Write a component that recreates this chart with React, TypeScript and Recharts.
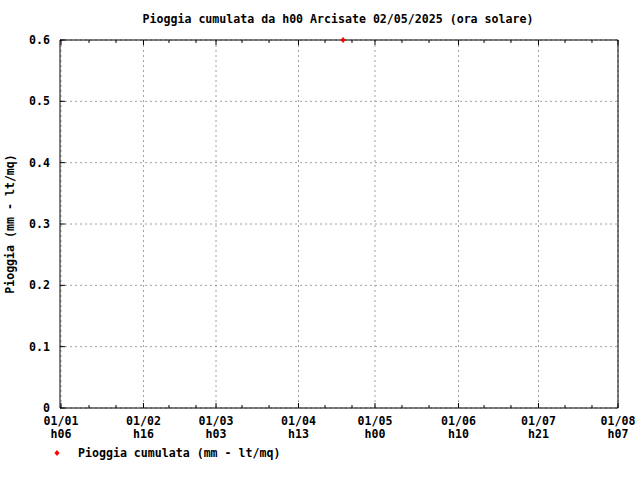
import { ComposedChart, Scatter, XAxis, YAxis, CartesianGrid, Legend } from "recharts";

// x positions are on a 0..100 scale across the plot (labels are irregularly spaced in the source)
const MAJOR_X = [0.18, 14.96, 27.96, 42.74, 56.45, 71.42, 85.75, 100];
const MAJOR_DATE = ["01/01", "01/02", "01/03", "01/04", "01/05", "01/06", "01/07", "01/08"];
const MAJOR_HOUR = ["h06", "h16", "h03", "h13", "h00", "h10", "h21", "h07"];
const MINOR_X = [5.2, 10.04, 19.53, 24.37, 32.62, 37.46, 47.49, 52.33, 61.29, 66.13, 75.99, 80.82, 90.5, 95.34];
const Y_TICKS = [0, 0.1, 0.2, 0.3, 0.4, 0.5, 0.6];

const RAIN_X = [50.72];
const RAIN_Y = [0.6];

const data = RAIN_X.map((x, i) => ({ x, y: RAIN_Y[i] }));
const ALL_X = [...MAJOR_X, ...MINOR_X].sort((a, b) => a - b);

const FONT = "'DejaVu Sans Mono', 'Liberation Mono', monospace";
const FONT_SIZE = 11.6;
const SERIES_NAME = "Pioggia cumulata (mm - lt/mq)";

function BottomTick({ x, y, payload }: any) {
  const i = MAJOR_X.indexOf(payload.value);
  const len = i >= 0 ? 5 : 3;
  return (
    <g>
      <line x1={x} y1={y} x2={x} y2={y - len} stroke="#000" />
      {i >= 0 && (
        <text
          x={x}
          textAnchor="middle"
          fontFamily={FONT}
          fontSize={FONT_SIZE}
          fontWeight="bold"
          fill="#000"
        >
          <tspan x={x} y={y + 17}>{MAJOR_DATE[i]}</tspan>
          <tspan x={x} y={y + 30}>{MAJOR_HOUR[i]}</tspan>
        </text>
      )}
    </g>
  );
}

function TopTick({ x, y, payload }: any) {
  const len = MAJOR_X.includes(payload.value) ? 5 : 3;
  return <line x1={x} y1={y} x2={x} y2={y + len} stroke="#000" />;
}

const Diamond = (p: any) => (
  <path
    d={`M${p.cx},${p.cy - 3} L${p.cx + 2.5},${p.cy} L${p.cx},${p.cy + 3} L${p.cx - 2.5},${p.cy} Z`}
    fill="#ff0000"
  />
);

const NoShape = () => <g />;

function RainLegend({ payload }: any) {
  const items = (payload || []).filter((item: any) => item.type !== "none");
  return (
    <div style={{ height: 20, position: "relative" }}>
      {items.map((item: any) => (
        <div key={item.value}>
          <svg width={8} height={8} style={{ position: "absolute", left: 53, top: 6 }}>
            <path d="M4,1 L6.5,4 L4,7 L1.5,4 Z" fill="#ff0000" />
          </svg>
          <span
            style={{
              position: "absolute",
              left: 78,
              top: 3,
              lineHeight: "14px",
              fontFamily: FONT,
              fontSize: FONT_SIZE,
              fontWeight: "bold",
              color: "#000",
              whiteSpace: "nowrap",
            }}
          >
            {item.value}
          </span>
        </div>
      ))}
    </div>
  );
}

export default function App() {
  return (
    <div style={{ position: "absolute", left: 0, top: 0, background: "#fff" }}>
      <ComposedChart width={640} height={480} data={data} margin={{ top: 39, right: 21, bottom: 17, left: 0 }}>
        <CartesianGrid stroke="#a0a0a0" strokeDasharray="2 3" verticalValues={MAJOR_X} />
        <XAxis
          dataKey="x"
          type="number"
          domain={[0, 100]}
          ticks={ALL_X}
          interval={0}
          allowDataOverflow
          height={35}
          tickSize={0}
          tickMargin={0}
          tickLine={false}
          tick={BottomTick}
          axisLine={{ stroke: "#000" }}
        />
        <XAxis
          xAxisId="top"
          dataKey="x"
          orientation="top"
          type="number"
          domain={[0, 100]}
          ticks={ALL_X}
          interval={0}
          allowDataOverflow
          height={1}
          tickSize={0}
          tickMargin={0}
          tickLine={false}
          tick={TopTick}
          axisLine={{ stroke: "#000" }}
        />
        <YAxis
          type="number"
          domain={[0, 0.6]}
          ticks={Y_TICKS}
          interval={0}
          width={60}
          tickSize={-5}
          tickMargin={15}
          tickLine={{ stroke: "#000" }}
          axisLine={{ stroke: "#000" }}
          tickFormatter={(v: number) => (v === 0 ? "0" : v.toFixed(1))}
          tick={{ fill: "#000", fontFamily: FONT, fontSize: FONT_SIZE, fontWeight: "bold" }}
          label={{
            value: "Pioggia (mm - lt/mq)",
            angle: -90,
            position: "insideLeft",
            offset: 10,
            style: { textAnchor: "middle", fill: "#000", fontFamily: FONT, fontSize: FONT_SIZE, fontWeight: "bold" },
          }}
        />
        <YAxis
          yAxisId="right"
          orientation="right"
          type="number"
          domain={[0, 0.6]}
          ticks={Y_TICKS}
          interval={0}
          allowDataOverflow
          width={1}
          tickSize={-5}
          tick={false}
          tickLine={{ stroke: "#000" }}
          axisLine={{ stroke: "#000" }}
        />
        <Legend verticalAlign="bottom" align="left" content={RainLegend} />
        {/* invisible copy so the mirrored top/right axes get a domain */}
        <Scatter
          xAxisId="top"
          yAxisId="right"
          dataKey="y"
          legendType="none"
          shape={NoShape}
          isAnimationActive={false}
        />
        <Scatter
          name={SERIES_NAME}
          dataKey="y"
          fill="#ff0000"
          shape={Diamond}
          isAnimationActive={false}
        />
        <text
          x={338}
          y={23}
          textAnchor="middle"
          fontFamily={FONT}
          fontSize={FONT_SIZE}
          fontWeight="bold"
          fill="#000"
        >
          Pioggia cumulata da h00 Arcisate 02/05/2025 (ora solare)
        </text>
      </ComposedChart>
    </div>
  );
}
